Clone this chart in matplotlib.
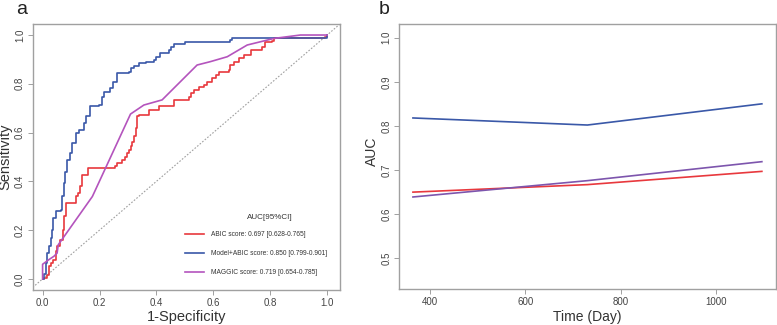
import matplotlib.pyplot as plt
import numpy as np

plt.rcParams['font.family'] = ['Liberation Sans', 'DejaVu Sans']

# ROC curves (1-specificity, sensitivity)
abic_fpr = [0, 0.005, 0.014, 0.022, 0.03, 0.037, 0.046, 0.051, 0.061, 0.071, 0.075, 0.081, 0.084,
            0.116, 0.124, 0.131, 0.139, 0.16, 0.256, 0.262, 0.28, 0.29, 0.297, 0.305, 0.309, 0.315,
            0.321, 0.327, 0.333, 0.338, 0.373, 0.409, 0.461, 0.514, 0.52, 0.531, 0.549, 0.567, 0.578,
            0.596, 0.608, 0.619, 0.654, 0.66, 0.672, 0.689, 0.707, 0.731, 0.772, 0.783, 0.807, 0.813,
            0.994, 1.0]
abic_tpr = [0, 0.004, 0.018, 0.052, 0.065, 0.079, 0.113, 0.133, 0.161, 0.2, 0.256, 0.263, 0.311,
            0.338, 0.352, 0.382, 0.427, 0.454, 0.461, 0.475, 0.488, 0.5, 0.516, 0.53, 0.545, 0.56,
            0.584, 0.62, 0.666, 0.673, 0.693, 0.709, 0.734, 0.747, 0.761, 0.775, 0.788, 0.795, 0.809,
            0.823, 0.836, 0.85, 0.857, 0.877, 0.891, 0.904, 0.918, 0.939, 0.952, 0.973, 0.977, 0.986,
            0.993, 1.0]

model_fpr = [0, 0.005, 0.011, 0.016, 0.022, 0.028, 0.032, 0.037, 0.046, 0.063, 0.069, 0.075, 0.078,
             0.087, 0.096, 0.104, 0.116, 0.127, 0.145, 0.151, 0.166, 0.198, 0.21, 0.215, 0.238, 0.248,
             0.262, 0.303, 0.309, 0.32, 0.34, 0.362, 0.391, 0.397, 0.414, 0.444, 0.45, 0.461, 0.502,
             0.66, 0.666, 0.965, 1.0]
model_tpr = [0, 0.02, 0.065, 0.106, 0.133, 0.168, 0.2, 0.249, 0.277, 0.284, 0.338, 0.393, 0.44,
             0.488, 0.515, 0.556, 0.598, 0.611, 0.638, 0.666, 0.707, 0.713, 0.747, 0.768, 0.782, 0.809,
             0.843, 0.85, 0.863, 0.873, 0.884, 0.89, 0.897, 0.911, 0.925, 0.939, 0.952, 0.963, 0.972,
             0.98, 0.986, 0.986, 1.0]

maggic_fpr = [0, 0, 0.022, 0.04, 0.051, 0.055, 0.175, 0.309, 0.356, 0.42, 0.543, 0.59, 0.649, 0.719,
              0.813, 0.906, 1.0]
maggic_tpr = [0, 0.06, 0.079, 0.093, 0.106, 0.14, 0.338, 0.676, 0.713, 0.734, 0.877, 0.891, 0.911,
              0.959, 0.986, 1.0, 1.0]

legend_title = "AUC[95%CI]"
legend_labels = ["ABIC score: 0.697 [0.628-0.765]",
                 "Model+ABIC score: 0.850 [0.799-0.901]",
                 "MAGGIC score: 0.719 [0.654-0.785]"]

# time-dependent AUC
days = [365, 730, 1095]
auc_model = [0.818, 0.802, 0.850]
auc_abic = [0.650, 0.667, 0.697]
auc_maggic = [0.639, 0.676, 0.719]

red = "#e8383d"
blue = "#3a58a8"
magenta = "#b454bd"
violet = "#7d55ad"
grey = "#a0a0a0"

fig = plt.figure(figsize=(7.77, 3.25), dpi=100)
ax1 = fig.add_axes([0.042, 0.108, 0.3955, 0.818])
ax2 = fig.add_axes([0.5135, 0.11, 0.485, 0.815])

ax1.axline((0, 0), (1, 1), color=grey, lw=0.8, ls=(0, (1.5, 1.5)))
ax1.plot(abic_fpr, abic_tpr, drawstyle="steps-post", color=red, lw=1.2, label=legend_labels[0])
ax1.plot(model_fpr, model_tpr, drawstyle="steps-post", color=blue, lw=1.2, label=legend_labels[1])
ax1.plot(maggic_fpr, maggic_tpr, color=magenta, lw=1.2, label=legend_labels[2])
ax1.set_xlim(-0.035, 1.045)
ax1.set_ylim(-0.045, 1.045)
ax1.set_xticks(np.arange(0, 1.01, 0.2))
ax1.set_yticks(np.arange(0, 1.01, 0.2))
ax1.set_xlabel("1-Specificity", fontsize=10.5, labelpad=2)
ax1.set_ylabel("Sensitivity", fontsize=10.5, va="center")
ax1.yaxis.set_label_coords(-0.088, 0.5)
for lab in ax1.get_yticklabels():
    lab.set_rotation(90)
    lab.set_va("center")
leg = ax1.legend(loc="lower left", bbox_to_anchor=(0.495, 0.052), frameon=False, fontsize=4.8,
                 handlelength=2.9, labelspacing=1.8, handletextpad=1.0,
                 borderpad=0, borderaxespad=0)
for t in leg.get_texts():
    t.set_color("#333333")
ax1.text(0.8, 0.25, legend_title, fontsize=5.8, ha="center", va="center", color="#333333")

ax2.plot(days, auc_model, color=blue, lw=1.2)
ax2.plot(days, auc_abic, color=red, lw=1.2)
ax2.plot(days, auc_maggic, color=violet, lw=1.2)
ax2.set_xlim(335.8, 1124.2)
ax2.set_ylim(0.43, 1.03)
ax2.set_xticks([400, 600, 800, 1000])
ax2.set_yticks([0.5, 0.6, 0.7, 0.8, 0.9, 1.0])
ax2.set_xlabel("Time (Day)", fontsize=10, labelpad=2)
ax2.set_ylabel("AUC", fontsize=10, va="center")
ax2.yaxis.set_label_coords(-0.071, 0.52)
for lab in ax2.get_yticklabels():
    lab.set_rotation(90)
    lab.set_va("center")

fig.text(22 / 777, 1 - 9 / 325, "a", fontsize=14, ha="center", va="center", color="#222222")
fig.text(384 / 777, 1 - 9 / 325, "b", fontsize=14, ha="center", va="center", color="#222222")

for ax in (ax1, ax2):
    for sp in ax.spines.values():
        sp.set_color(grey)
        sp.set_linewidth(1.0)
    ax.tick_params(colors="#444444", labelsize=7, length=3.5, width=0.7, pad=2)
    ax.tick_params(axis="both", color=grey)
    ax.xaxis.label.set_color("#333333")
    ax.yaxis.label.set_color("#333333")

fig.savefig("out.png", dpi=100)
